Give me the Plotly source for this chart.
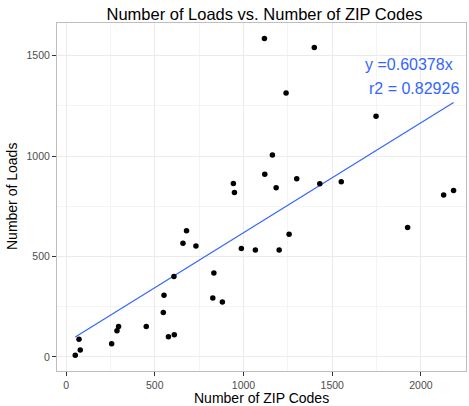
import plotly.graph_objects as go

# Data
zip_codes = [52, 73, 80, 257, 287, 296, 452, 548, 552, 577, 610, 608, 659, 679, 732,
             833, 827, 881, 988, 1067, 1201, 1257, 1925, 943, 949, 1118, 1399, 1240,
             1747, 1163, 1120, 1184, 1300, 1430, 1551, 2128, 2184]
loads = [9, 88, 35, 66, 130, 151, 151, 221, 307, 101, 111, 400, 566, 629, 552,
         418, 294, 273, 540, 532, 533, 611, 644, 864, 819, 1586, 1541, 1315,
         1199, 1006, 910, 842, 887, 862, 872, 806, 829]

fit_intercept = 71.0
fit_slope = 0.5475
eq_label = "y =0.60378x"
r2_label = "r2 = 0.82926"

x_tick_vals = [0, 500, 1000, 1500, 2000]
y_tick_vals = [0, 500, 1000, 1500]

FONT = "Liberation Sans, Arial, sans-serif"
BLUE = "#3366FF"

x_min, x_max = min(zip_codes), max(zip_codes)
fit_x = [x_min, x_max]
fit_y = [fit_intercept + fit_slope * v for v in fit_x]

fig = go.Figure()
fig.add_trace(go.Scatter(x=fit_x, y=fit_y, mode="lines",
                         line=dict(color=BLUE, width=1.2), hoverinfo="skip"))
fig.add_trace(go.Scatter(x=zip_codes, y=loads, mode="markers",
                         marker=dict(color="black", size=5.5)))

fig.add_annotation(x=1935, y=1454, text=eq_label, showarrow=False,
                   font=dict(family=FONT, size=16, color=BLUE), xanchor="center", yanchor="middle")
fig.add_annotation(x=1960, y=1337, text=r2_label, showarrow=False,
                   font=dict(family=FONT, size=16, color=BLUE), xanchor="center", yanchor="middle")

# axis titles
fig.add_annotation(xref="paper", yref="paper", x=0.5, y=-0.079, text="Number of ZIP Codes",
                   showarrow=False, font=dict(family=FONT, size=14, color="black"),
                   xanchor="center", yanchor="middle")
fig.add_annotation(xref="paper", yref="paper", x=-0.11, y=0.5, text="Number of Loads",
                   showarrow=False, textangle=-90, font=dict(family=FONT, size=14, color="black"),
                   xanchor="center", yanchor="middle")

axis_common = dict(
    showline=True, linecolor="#BEBEBE", linewidth=1, mirror=True,
    ticks="outside", ticklen=4, tickwidth=1, tickcolor="#333333",
    tickfont=dict(family=FONT, size=10.5, color="#4D4D4D"),
    showgrid=True, gridcolor="#EBEBEB", gridwidth=1, zeroline=False,
)

fig.update_xaxes(range=[-51, 2254], tickvals=x_tick_vals,
                 minor=dict(dtick=250, tick0=0, showgrid=True, gridcolor="#F4F4F4", ticks=""),
                 **axis_common)
fig.update_yaxes(range=[-70, 1663], tickvals=y_tick_vals,
                 minor=dict(dtick=250, tick0=0, showgrid=True, gridcolor="#F4F4F4", ticks=""),
                 **axis_common)

fig.update_layout(
    width=469, height=406,
    margin=dict(l=57, r=3, t=23, b=35),
    paper_bgcolor="white", plot_bgcolor="white",
    showlegend=False,
    title=dict(text="Number of Loads vs. Number of ZIP Codes", x=0.564, xanchor="center",
               y=1 - 14 / 406, yanchor="middle", yref="container",
               font=dict(family=FONT, size=16.5, color="black")),
)

fig.write_html("out.html", config={"displayModeBar": False},
               post_script="document.body.style.margin='0px';")
